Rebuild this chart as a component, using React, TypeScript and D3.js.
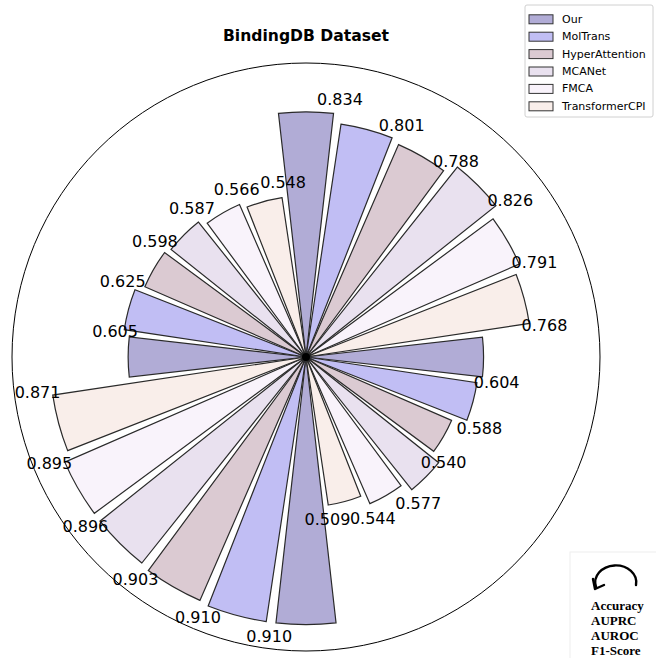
import React from 'react';
import * as d3 from 'd3';

const methods = ['Our', 'MolTrans', 'HyperAttention', 'MCANet', 'FMCA', 'TransformerCPI'];
const colors = ['#b1acd6', '#c1bef4', '#dbcad2', '#e9e1ef', '#f9f3fb', '#f9eeea'];

// metrics listed counter-clockwise starting at the top
const metrics = ['Accuracy', 'AUPRC', 'AUROC', 'F1-Score'];
const accuracy = [0.834, 0.801, 0.788, 0.826, 0.791, 0.768];
const auprc = [0.605, 0.625, 0.598, 0.587, 0.566, 0.548];
const auroc = [0.91, 0.91, 0.903, 0.896, 0.895, 0.871];
const f1 = [0.604, 0.588, 0.54, 0.577, 0.544, 0.509];
const series = [accuracy, auprc, auroc, f1];

const W = 656;
const H = 658;
const cx = 306;
const cy = 357;
const R = 294;

export default function App() {
  const r = d3.scaleLinear().domain([0, 1]).range([0, R]);
  const step = (2 * Math.PI) / 24;
  const bw = step * 0.86;

  const bars: { a: number; v: number; m: number }[] = [];
  series.forEach((vals, k) => {
    const base = (-k * Math.PI) / 2;
    vals.forEach((v, m) => {
      bars.push({ a: base + m * step, v, m });
    });
  });

  const arc = d3.arc<any>()
    .innerRadius(0)
    .outerRadius((d) => r(d.v))
    .startAngle((d) => d.a - bw / 2)
    .endAngle((d) => d.a + bw / 2);

  return (
    <svg width={W} height={H} style={{ position: 'absolute', left: 0, top: 0, background: '#fff' }}
      fontFamily="DejaVu Sans, sans-serif">
      <text x={306} y={41} textAnchor="middle" fontSize={15.6} fontWeight="bold">BindingDB Dataset</text>
      <circle cx={cx} cy={cy} r={R} fill="none" stroke="#000" strokeWidth={1} />
      <g transform={`translate(${cx},${cy})`}>
        {bars.map((d, i) => (
          <path key={i} d={arc(d) as string} fill={colors[d.m]} stroke="#2a2a2a" strokeWidth={1.2} />
        ))}
        <circle r={4} fill="#000" />
        {bars.map((d, i) => {
          const la = d.a + step / 2;
          const rr = r(d.v + 0.05);
          return (
            <text key={'t' + i} x={rr * Math.sin(la)} y={-rr * Math.cos(la)} textAnchor="middle"
              dominantBaseline="central" fontSize={16}>{d.v.toFixed(3)}</text>
          );
        })}
      </g>
      <g transform="translate(525,5)">
        <rect x={0} y={0} width={128} height={112} rx={2} fill="#fff" stroke="#ccc" strokeWidth={1} opacity={0.9} />
        {methods.map((m, i) => (
          <g key={m} transform={`translate(0,${14.3 + i * 17.4})`}>
            <rect x={4} y={-4.5} width={24} height={9} fill={colors[i]} stroke="#333" strokeWidth={1} />
            <text x={37} y={0} dominantBaseline="central" fontSize={11}>{m}</text>
          </g>
        ))}
      </g>
      <g transform="translate(570,552)">
        <rect x={0} y={0} width={90} height={110} fill="#fff" stroke="#eee" strokeWidth={1} />
        <path d="M66,33 A 20.5 17 0 1 0 26,35" fill="none" stroke="#000" strokeWidth={2.4} strokeLinecap="round" />
        <path d="M23,27 L25,37 L34,33" fill="none" stroke="#000" strokeWidth={2.4} strokeLinecap="round" strokeLinejoin="round" />
        {metrics.map((m, i) => (
          <text key={m} x={21} y={58 + i * 15} fontFamily="Liberation Serif, serif" fontWeight="bold" fontSize={13}>{m}</text>
        ))}
      </g>
    </svg>
  );
}
